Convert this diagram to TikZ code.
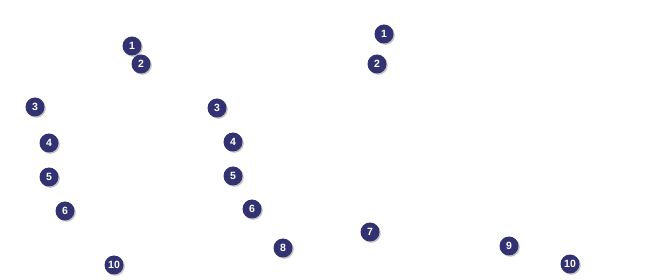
\documentclass[tikz,border=0pt]{standalone}
\usepackage{fontspec}
\setsansfont{Liberation Sans}
\usepackage{tikz}
\usetikzlibrary{shadows, positioning}
\definecolor{tikznavy}{RGB}{50, 50, 115}

\begin{document}
\begin{tikzpicture}[
  x=1pt, y=-1pt,
  badge/.style={circle, fill=tikznavy, text=white, minimum size=19pt, inner sep=0pt, font=\sffamily\bfseries\fontsize{10.5}{10.5}\selectfont, drop shadow={shadow xshift=1.3pt, shadow yshift=-1.3pt, fill=black!30, opacity=0.8}}
]
\useasboundingbox (0,0) rectangle (645,280);

% Left group
\node[badge] (la) at (132, 46) {1};
\node[badge] (lb) at (141, 64) {2};
\node[badge] (lc) at (35, 107) {3};
\node[badge] (ld) at (49, 143) {4};
\node[badge] (le) at (49, 177) {5};
\node[badge] (lf) at (65, 211) {6};
\node[badge] (lj) at (114, 265) {10};

% Middle group
\node[badge] (mc) at (217, 108) {3};
\node[badge] (md) at (233, 142) {4};
\node[badge] (me) at (233, 176) {5};
\node[badge] (mf) at (252, 209) {6};
\node[badge] (mh) at (283, 248) {8};

% Right group
\node[badge] (ra) at (384, 34) {1};
\node[badge] (rb) at (377, 64) {2};
\node[badge] (rg) at (370, 232) {7};
\node[badge] (ri) at (509, 246) {9};
\node[badge] (rj) at (570, 264) {10};

\end{tikzpicture}
\end{document}
